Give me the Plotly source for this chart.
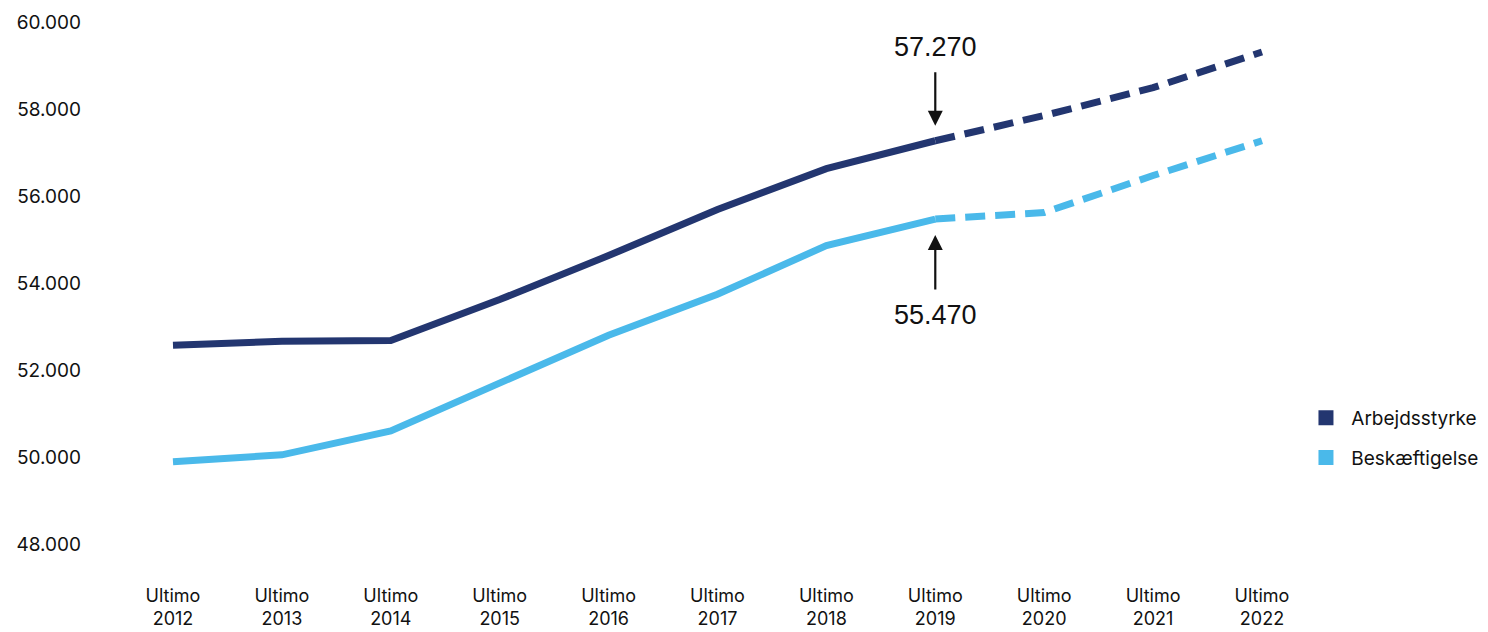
import plotly.graph_objects as go

years = ["2012", "2013", "2014", "2015", "2016", "2017", "2018", "2019", "2020", "2021", "2022"]
x_labels = ["Ultimo<br>" + y for y in years]
arbejdsstyrke = [52570, 52660, 52680, 53620, 54630, 55690, 56630, 57270, 57850, 58490, 59310]
beskaeftigelse = [49890, 50050, 50600, 51680, 52800, 53740, 54860, 55470, 55620, 56470, 57270]
last_actual = 7  # Ultimo 2019
y_ticks = [48000, 50000, 52000, 54000, 56000, 58000, 60000]
y_ticktext = [f"{v:,}".replace(",", ".") for v in y_ticks]

DARK = "#233670"
LIGHT = "#4AB9EA"
FONT = "Inter"
ANN_FONT = "Liberation Sans"

idx = list(range(len(years)))
fig = go.Figure()

for name, vals, col in [("Arbejdsstyrke", arbejdsstyrke, DARK), ("Beskæftigelse", beskaeftigelse, LIGHT)]:
    fig.add_trace(go.Scatter(x=idx[:last_actual + 1], y=vals[:last_actual + 1], mode="lines",
                             line=dict(color=col, width=7), showlegend=False, hoverinfo="skip"))
    fig.add_trace(go.Scatter(x=idx[last_actual:], y=vals[last_actual:], mode="lines",
                             line=dict(color=col, width=7, dash="20px,10px"), showlegend=False, hoverinfo="skip"))

for name, col in [("Arbejdsstyrke", DARK), ("Beskæftigelse", LIGHT)]:
    fig.add_trace(go.Scatter(x=[None], y=[None], mode="markers", name="\u00a0" + name, legendgroup=name,
                             marker=dict(symbol="square", size=15, color=col)))

# annotations for 2019 values
a_val = arbejdsstyrke[last_actual]
b_val = beskaeftigelse[last_actual]
fig.add_annotation(x=last_actual, y=a_val, text="", showarrow=True, ax=0, ay=-70, standoff=15,
                   arrowhead=2, arrowsize=1.36, arrowwidth=2.2, arrowcolor="#111111")
fig.add_annotation(x=last_actual, y=a_val, text=f"{a_val:,}".replace(",", "."), showarrow=False,
                   yshift=94, font=dict(family=ANN_FONT, size=27, color="#111111"))
fig.add_annotation(x=last_actual, y=b_val, text="", showarrow=True, ax=0, ay=72, standoff=16,
                   arrowhead=2, arrowsize=1.36, arrowwidth=2.2, arrowcolor="#111111")
fig.add_annotation(x=last_actual, y=b_val, text=f"{b_val:,}".replace(",", "."), showarrow=False,
                   yshift=-96, font=dict(family=ANN_FONT, size=27, color="#111111"))

fig.update_layout(
    width=1488, height=632,
    margin=dict(l=82, r=208, t=2, b=70),
    paper_bgcolor="white", plot_bgcolor="white",
    font=dict(family=FONT, color="#111111"),
    xaxis=dict(range=[-0.762, 10.239], tickvals=idx, ticktext=x_labels, showgrid=False,
               zeroline=False, showline=False, ticks="", tickfont=dict(size=18),
               ticklabelstandoff=13),
    yaxis=dict(range=[47402, 60276], tickvals=y_ticks, ticktext=y_ticktext, showgrid=False,
               zeroline=False, showline=False, ticks="", tickfont=dict(size=19),
               ticklabelstandoff=8),
    legend=dict(x=1.015, y=0.236, xanchor="left", yanchor="middle", font=dict(size=19),
                tracegroupgap=12, traceorder="grouped", itemwidth=30),
    showlegend=True,
)

fig.write_html("out.html")
